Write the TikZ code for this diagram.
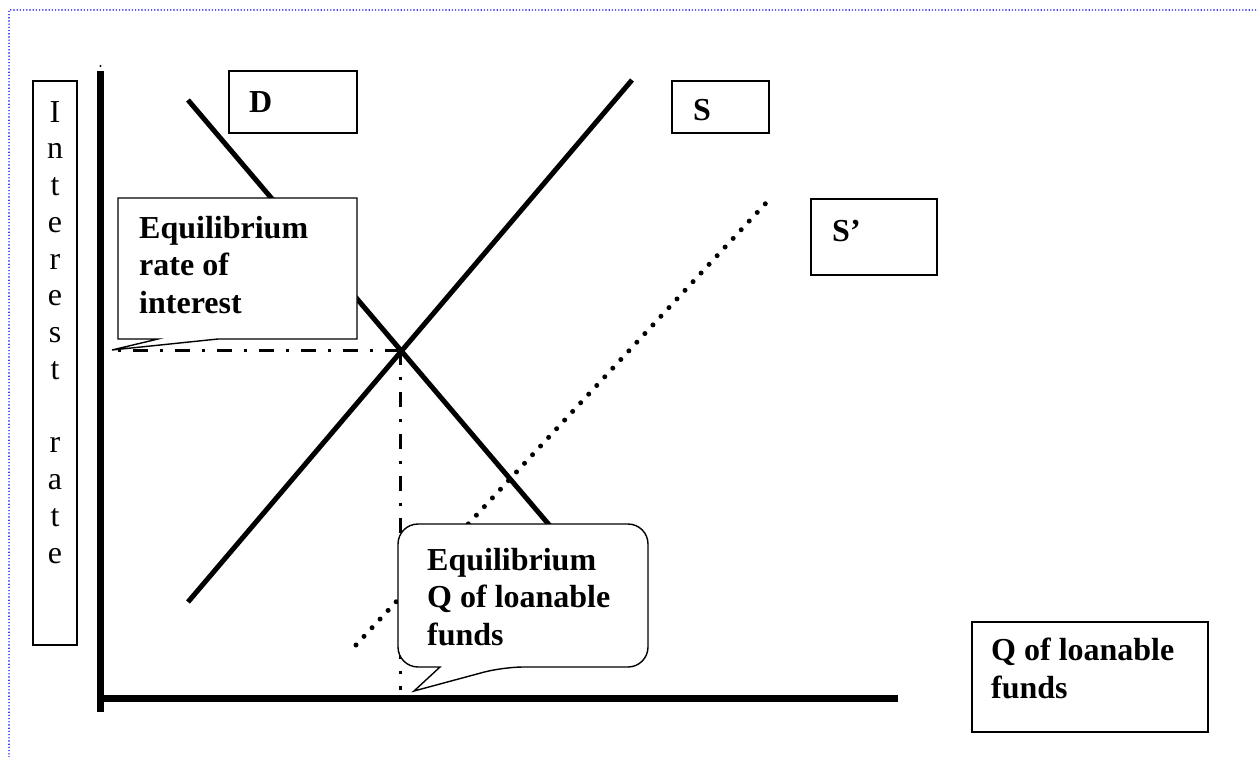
\documentclass[tikz,border=0pt]{standalone}
\usepackage{fontspec}
\setmainfont{Liberation Serif}
\begin{document}
\begin{tikzpicture}[x=1pt,y=-1pt,
  lbl/.style={font=\bfseries\fontsize{32}{37.5}\selectfont, align=left, inner sep=0pt, anchor=base west},
  boxline/.style={draw=black, line width=1.6pt, fill=white},
  curve/.style={line width=5pt},
  axisline/.style={line width=7pt},
  dashdotline/.style={line width=3pt, dash pattern=on 15pt off 12pt on 3pt off 12pt},
  dotline/.style={line width=5pt, line cap=round, dash pattern=on 0pt off 11.8pt},
  frame/.style={blue, line width=1.6pt, line cap=round, dash pattern=on 0pt off 3.2pt}]
\useasboundingbox (0,0) rectangle (1258,757);
% frame
\draw[frame] (9,757) -- (9,10) -- (1258,10);
% axes
\coordinate (ytop) at (100.5,71);
\coordinate (origin) at (100.5,698);
\coordinate (ybot) at (100.5,712);
\coordinate (xend) at (898,698);
\draw[axisline] (ytop) -- (ybot);
\draw[axisline] (97,698) -- (xend);
\fill (100.5,66) circle (1.1);
% interest rate label (base anchor = last line baseline)
\draw[boxline] (33,81) rectangle (77,645);
\node[font=\fontsize{32}{36.75}\selectfont, align=center, inner sep=0pt, anchor=base] (ir) at (55,563)
  {I\\n\\t\\e\\r\\e\\s\\t\\~\\r\\a\\t\\e};
% curves
\coordinate (eq) at (400,350);
\draw[curve] (188,100) -- (579,560);
\draw[curve] (188,602) -- (632,80);
\draw[dotline] (356,645) -- (766,203);
\draw[dashdotline] (eq) -- (112,350);
\draw[dashdotline] (eq) -- (400,690);
% callout 1
\draw[boxline, line width=1.4pt] (118,198) -- (357,198) -- (357,339) -- (218,339) -- (112,350) -- (158,339) -- (118,339) -- cycle;
\node[lbl] (c1) at (139,313) {Equilibrium\\rate of\\interest};
% callout 2
\draw[boxline, line width=1.4pt, rounded corners=20pt] (440,667) -- (398,667) -- (398,524) -- (648,524) -- (648,667) -- (503,667) [sharp corners] -- (414,691) -- cycle;
\node[lbl] (c2) at (427,645) {Equilibrium\\Q of loanable\\funds};
% D, S, S' boxes
\draw[boxline] (229,71) rectangle (357,133);
\node[lbl] (dl) at (249,113) {D};
\draw[boxline] (672,81) rectangle (769,133);
\node[lbl] (sl) at (693,121) {S};
\draw[boxline] (811,199) rectangle (937,275);
\node[lbl] (spl) at (832,241) {S’};
% Q box
\draw[boxline] (972,622) rectangle (1208,732);
\node[lbl] (ql) at (991,698) {Q of loanable\\funds};
\end{tikzpicture}
\end{document}
